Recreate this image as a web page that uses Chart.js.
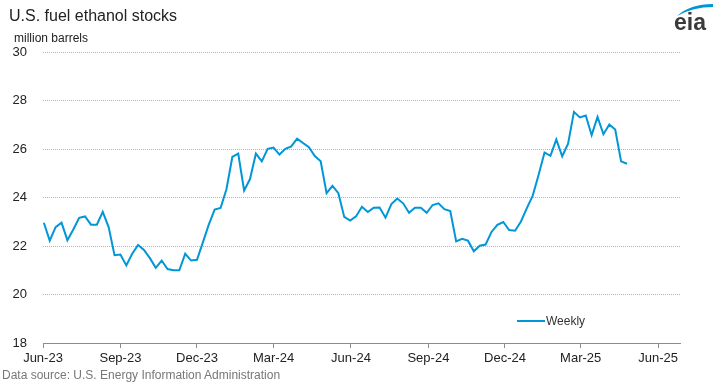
<!DOCTYPE html>
<html>
<head>
<meta charset="utf-8">
<script src="https://cdn.jsdelivr.net/npm/chart.js@4.4.1/dist/chart.umd.min.js"></script>
<style>
html,body{margin:0;padding:0;background:#fff;}
#wrap{position:relative;width:719px;height:384px;font-family:'Liberation Sans',Arial,sans-serif;overflow:hidden;background:#fff;}
#c{position:absolute;left:0;top:0;}
.t{position:absolute;white-space:nowrap;line-height:1;}
#title{left:9px;top:8px;font-size:16px;color:#222;}
#unit{left:14px;top:32px;font-size:12px;color:#222;}
#src{left:2px;top:369px;font-size:12px;color:#777;}
#legend{position:absolute;left:517px;top:315px;display:flex;align-items:center;font-size:12px;color:#333;line-height:1;}
#legend .sw{width:28px;height:2px;background:#0096d7;margin-right:1px;}
#logo{position:absolute;left:668px;top:0px;}
</style>
</head>
<body>
<div id="wrap">
  <canvas id="c" width="719" height="384"></canvas>
  <div class="t" id="title">U.S. fuel ethanol stocks</div>
  <div class="t" id="unit">million barrels</div>
  <div class="t" id="src">Data source: U.S. Energy Information Administration</div>
  <div id="legend"><span class="sw"></span><span id="legtext"></span></div>
  <svg id="logo" width="50" height="36" viewBox="0 0 50 36">
    <path d="M9 16 Q 22 4 45 4 L 45 7 Q 25 7 9 16 Z" fill="#0096d7"/>
    <text x="6" y="30" font-size="23" font-weight="bold" fill="#3a3a3a" font-family="Liberation Sans, Arial, sans-serif">eia</text>
  </svg>
</div>
<script>
// ---- data ----
const seriesName = 'Weekly';
const firstWeek = '2023-06-02';           // first weekly observation (Fridays)
const stockValues = [
  22.96, 22.22, 22.78, 22.96, 22.24, 22.68, 23.16, 23.22, 22.88, 22.88,
  23.41, 22.78, 21.62, 21.65, 21.20, 21.68, 22.04, 21.84, 21.50, 21.10,
  21.40, 21.05, 21.00, 21.00, 21.68, 21.40, 21.43, 22.15, 22.88, 23.50,
  23.57, 24.34, 25.67, 25.81, 24.29, 24.76, 25.81, 25.49, 26.01, 26.06,
  25.77, 26.01, 26.11, 26.43, 26.25, 26.07, 25.71, 25.49, 24.18, 24.48,
  24.18, 23.20, 23.05, 23.22, 23.62, 23.40, 23.58, 23.59, 23.17, 23.73,
  23.96, 23.76, 23.37, 23.58, 23.58, 23.37, 23.69, 23.76, 23.52, 23.44,
  22.19, 22.30, 22.22, 21.78, 22.01, 22.06, 22.58, 22.87, 22.99, 22.66,
  22.63, 23.01, 23.56, 24.08, 24.94, 25.86, 25.72, 26.39, 25.70, 26.22,
  27.53, 27.30, 27.38, 26.57, 27.32, 26.61, 27.01, 26.80, 25.49, 25.39
];
const tickDates = ['2023-06-01','2023-09-01','2023-12-01','2024-03-01','2024-06-01','2024-09-01','2024-12-01','2025-03-01','2025-06-01'];
const tickLabels = ['Jun-23','Sep-23','Dec-23','Mar-24','Jun-24','Sep-24','Dec-24','Mar-25','Jun-25'];
const yTicks = [18, 20, 22, 24, 26, 28, 30];
const axisStart = '2023-06-01';
const axisEnd = '2025-06-27';

// ---- helpers ----
const DAY = 86400000;
const dayNum = s => Math.round((Date.parse(s + 'T00:00:00Z') - Date.parse(axisStart + 'T00:00:00Z')) / DAY);
const first = dayNum(firstWeek);
const points = stockValues.map((v, i) => ({ x: first + 7 * i, y: v }));

document.getElementById('legtext').textContent = seriesName;

const FONT = "'Liberation Sans', Arial, sans-serif";
new Chart(document.getElementById('c').getContext('2d'), {
  type: 'line',
  data: {
    datasets: [{
      label: seriesName,
      data: points,
      borderColor: '#0096d7',
      borderWidth: 2,
      pointRadius: 0,
      tension: 0,
      fill: false
    }]
  },
  options: {
    responsive: false,
    animation: false,
    devicePixelRatio: 1,
    layout: { padding: { top: 52, right: 39, left: 0, bottom: 0 } },
    plugins: { legend: { display: false }, tooltip: { enabled: false } },
    scales: {
      x: {
        type: 'linear',
        min: dayNum(axisStart),
        max: dayNum(axisEnd),
        afterBuildTicks: s => { s.ticks = tickDates.map(d => ({ value: dayNum(d) })); },
        afterFit: s => { s.height = 41; },
        ticks: {
          autoSkip: false, maxRotation: 0, minRotation: 0, padding: 3,
          color: '#222', font: { family: FONT, size: 13 },
          callback: (v, i) => tickLabels[i]
        },
        grid: { drawOnChartArea: false, drawTicks: true, tickLength: 5, color: '#8c8c8c', lineWidth: 1 },
        border: { display: true, color: '#8c8c8c', width: 1 }
      },
      y: {
        min: 18, max: 30,
        afterBuildTicks: s => { s.ticks = yTicks.map(v => ({ value: v })); },
        afterFit: s => { s.width = 43; },
        ticks: { padding: 16, color: '#222', font: { family: FONT, size: 13 } },
        grid: {
          drawTicks: false, lineWidth: 1, borderDash: [1, 1],
          color: c => (c.tick && c.tick.value === 18) ? 'rgba(0,0,0,0)' : '#b4b4b4'
        },
        border: { display: false, dash: [1, 1] }
      }
    }
  }
});
</script>
</body>
</html>
